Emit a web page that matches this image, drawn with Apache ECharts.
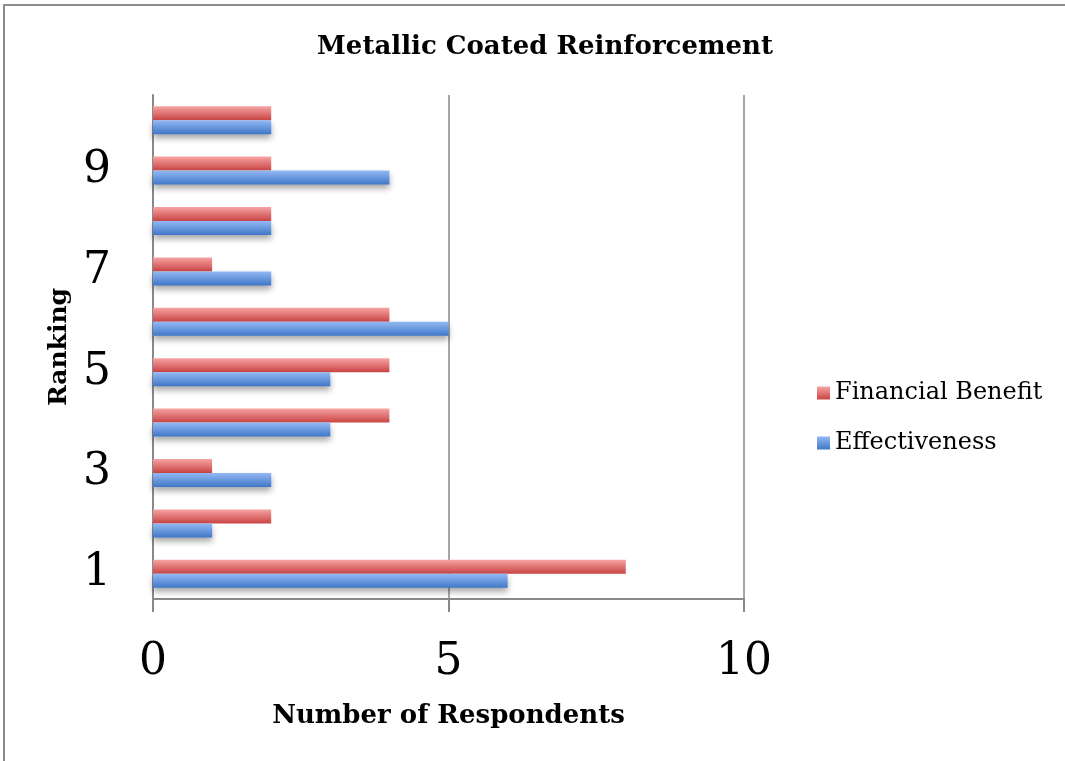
<!DOCTYPE html>
<html>
<head>
<meta charset="utf-8">
<script src="https://cdn.jsdelivr.net/npm/echarts@6/dist/echarts.min.js"></script>
<style>
  html, body { margin: 0; padding: 0; background: #fff; }
  #chart { width: 1065px; height: 761px; }
</style>
</head>
<body>
<div id="chart"></div>
<script>
// Ranking categories, bottom to top
const rankings = ['1', '2', '3', '4', '5', '6', '7', '8', '9', '10'];
// Respondents per ranking
const financialBenefit = [8, 2, 1, 4, 4, 4, 1, 2, 2, 2];
const effectiveness = [6, 1, 2, 3, 3, 5, 2, 2, 4, 2];
const xTicks = [0, 5, 10];

const serif = '"DejaVu Serif", "Liberation Serif", serif';
const axisGray = '#898989';

function grad(top, bottom) {
  return new echarts.graphic.LinearGradient(0, 0, 0, 1, [
    { offset: 0, color: top },
    { offset: 1, color: bottom }
  ]);
}

const redFill = grad('#f7a3a3', '#c94444');
const blueFill = grad('#94b9f3', '#3f77c9');

const chart = echarts.init(document.getElementById('chart'), null, { renderer: 'canvas' });

chart.setOption({
  backgroundColor: '#fff',
  animation: false,
  graphic: [{
    type: 'polyline',
    shape: { points: [[4, 770], [4, 5], [1070, 5]] },
    style: { stroke: '#8c8c8c', lineWidth: 2, fill: null },
    silent: true
  }],
  title: {
    text: 'Metallic Coated Reinforcement',
    left: 540,
    textAlign: 'center',
    top: 29,
    textStyle: { fontFamily: serif, fontWeight: 'bold', fontSize: 26, color: '#000' }
  },
  legend: {
    orient: 'vertical',
    left: 812,
    top: 376,
    itemGap: 26,
    itemWidth: 13,
    itemHeight: 13,
    icon: 'rect',
    data: ['Financial Benefit', 'Effectiveness'],
    textStyle: { fontFamily: serif, fontSize: 24, color: '#000' }
  },
  grid: { left: 153, right: 321, top: 95, bottom: 162, containLabel: false },
  xAxis: {
    type: 'value',
    min: xTicks[0],
    max: xTicks[xTicks.length - 1],
    interval: xTicks[1] - xTicks[0],
    name: 'Number of Respondents',
    nameLocation: 'middle',
    nameGap: 104,
    nameTextStyle: { fontFamily: serif, fontWeight: 'bold', fontSize: 26, color: '#000' },
    axisLine: { show: true, lineStyle: { color: axisGray, width: 2 } },
    axisTick: { show: true, length: 13, lineStyle: { color: axisGray, width: 2 } },
    splitLine: { show: true, lineStyle: { color: axisGray, width: 1.5 } },
    axisLabel: { fontFamily: serif, fontSize: 44, color: '#000', margin: 42 }
  },
  yAxis: {
    type: 'category',
    data: rankings,
    name: 'Ranking',
    nameLocation: 'middle',
    nameGap: 80,
    nameRotate: 90,
    nameTextStyle: { fontFamily: serif, fontWeight: 'bold', fontSize: 25, color: '#000' },
    axisLine: { show: true, lineStyle: { color: axisGray, width: 2 } },
    axisTick: { show: false },
    axisLabel: { interval: 1, fontFamily: serif, fontSize: 44, color: '#000', margin: 42 }
  },
  series: [
    {
      name: 'Financial Benefit',
      type: 'bar',
      data: financialBenefit,
      barWidth: 14,
      barGap: '0%',
      itemStyle: { color: redFill }
    },
    {
      name: 'Effectiveness',
      type: 'bar',
      data: effectiveness,
      barWidth: 14,
      barGap: '0%',
      itemStyle: {
        color: blueFill,
        shadowColor: 'rgba(0,0,0,0.35)',
        shadowBlur: 6,
        shadowOffsetY: 4
      }
    }
  ]
});
</script>
</body>
</html>
